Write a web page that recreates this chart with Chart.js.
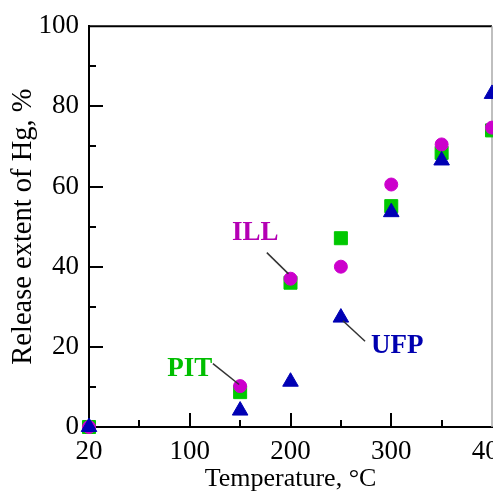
<!DOCTYPE html>
<html>
<head>
<meta charset="utf-8">
<script src="https://cdn.jsdelivr.net/npm/chart.js@4/dist/chart.umd.min.js"></script>
<style>
  html, body { margin: 0; padding: 0; background: #fff; overflow: hidden; width: 493px; height: 495px; }
  canvas { display: block; }
</style>
</head>
<body>
<canvas id="c" width="560" height="495"></canvas>
<script>
// Temperatures (°C); the 20 °C start point sits at the axis origin
const temperatures = [20, 150, 200, 250, 300, 350, 400];
const startTemperature = 20;
// Release extent of Hg (%)
const ILL = [0, 10.2, 37, 40, 60.5, 70.5, 74.7];
const PIT = [0, 8.7, 36, 47.1, 55.1, 68.4, 74];
const UFP = [0, 4.1, 11.3, 27.3, 53.6, 66.5, 83.1];
const xTickLabels = { 0: '20', 100: '100', 200: '200', 300: '300', 400: '400' };
const yTickLabels = [0, 20, 40, 60, 80, 100];

// Series labels with leader lines (label centre, line start, line end) in data units
const annotations = [
  { text: 'ILL', color: '#B400B4', at: [165, 48.3], from: [176.5, 43.5], to: [198, 38.2] },
  { text: 'PIT', color: '#00BE00', at: [100, 14.4], from: [123, 15.8], to: [149, 10.6] },
  { text: 'UFP', color: '#0000B0', at: [306, 20.1], from: [252, 26.5], to: [274, 21.4] }
];

const xPos = t => (t === startTemperature ? 0 : t);
const toPoints = arr => temperatures.map((t, i) => ({ x: xPos(t), y: arr[i] }));

const FONT = '"Liberation Serif", "DejaVu Serif", serif';
Chart.defaults.font.family = FONT;

const framePlugin = {
  id: 'frame',
  beforeDatasetsDraw(chart) {
    const { ctx, chartArea: a, scales: { x, y } } = chart;
    ctx.save();
    ctx.strokeStyle = '#000';
    ctx.lineWidth = 2;
    y.ticks.forEach(t => {
      const v = t.value;
      if (v <= 0 || v >= 100) return;
      const py = Math.round(y.getPixelForValue(v));
      const len = v % 20 === 0 ? 14 : 7;
      ctx.beginPath();
      ctx.moveTo(a.left, py);
      ctx.lineTo(a.left + len, py);
      ctx.stroke();
    });
    x.ticks.forEach(t => {
      const v = t.value;
      if (v <= 0 || v >= 400) return;
      const px = Math.round(x.getPixelForValue(v));
      const len = v % 100 === 0 ? 14 : 7;
      ctx.beginPath();
      ctx.moveTo(px, a.bottom);
      ctx.lineTo(px, a.bottom - len);
      ctx.stroke();
    });
    ctx.beginPath();
    ctx.moveTo(a.left - 1, a.top);
    ctx.lineTo(a.right, a.top);
    ctx.stroke();
    ctx.strokeStyle = '#aaa';
    ctx.lineWidth = 1.5;
    ctx.beginPath();
    ctx.moveTo(a.right, a.top);
    ctx.lineTo(a.right, a.bottom);
    ctx.stroke();
    ctx.restore();
  },
  afterDraw(chart) {
    const { ctx, scales: { x, y } } = chart;
    ctx.save();
    annotations.forEach(an => {
      ctx.strokeStyle = '#333';
      ctx.lineWidth = 1.5;
      ctx.beginPath();
      ctx.moveTo(x.getPixelForValue(an.from[0]), y.getPixelForValue(an.from[1]));
      ctx.lineTo(x.getPixelForValue(an.to[0]), y.getPixelForValue(an.to[1]));
      ctx.stroke();
      ctx.fillStyle = an.color;
      ctx.font = 'bold 27px ' + FONT;
      ctx.textAlign = 'center';
      ctx.textBaseline = 'middle';
      ctx.fillText(an.text, x.getPixelForValue(an.at[0]), y.getPixelForValue(an.at[1]));
    });
    ctx.restore();
  }
};

new Chart(document.getElementById('c'), {
  type: 'scatter',
  data: {
    datasets: [
      { label: 'UFP', data: toPoints(UFP), pointStyle: 'triangle', pointRadius: 9, clip: false,
        backgroundColor: '#0000B4', borderColor: '#0000B4', borderWidth: 1, order: 1 },
      { label: 'ILL', data: toPoints(ILL), pointStyle: 'circle', pointRadius: 6.5, clip: false,
        backgroundColor: '#CC00CC', borderColor: '#CC00CC', borderWidth: 1, order: 2 },
      { label: 'PIT', data: toPoints(PIT), pointStyle: 'rect', pointRadius: 9.2, clip: false,
        backgroundColor: '#00C800', borderColor: '#00C800', borderWidth: 1, order: 3 }
    ]
  },
  options: {
    responsive: false,
    animation: false,
    events: [],
    layout: { padding: { left: 0, top: 24, right: 68, bottom: 0 } },
    plugins: { legend: { display: false }, tooltip: { enabled: false } },
    scales: {
      x: {
        type: 'linear', min: 0, max: 400,
        grid: { display: false, drawTicks: false, tickLength: 0 },
        border: { display: true, color: '#000', width: 2 },
        ticks: {
          stepSize: 50, autoSkip: false, maxRotation: 0, padding: 9,
          color: '#000', font: { family: FONT, size: 27 },
          callback: v => (xTickLabels[v] !== undefined ? xTickLabels[v] : '')
        },
        title: { display: true, text: 'Temperature, °C', color: '#000',
          font: { family: FONT, size: 26 }, padding: { top: 0, bottom: 0 } },
        afterFit: s => { s.height = 68; }
      },
      y: {
        type: 'linear', min: 0, max: 100,
        grid: { display: false, drawTicks: false, tickLength: 0 },
        border: { display: true, color: '#000', width: 2 },
        ticks: {
          stepSize: 10, autoSkip: false, padding: 10,
          color: '#000', font: { family: FONT, size: 27 },
          callback: v => (yTickLabels.includes(v) ? String(v) : '')
        },
        title: { display: true, text: 'Release extent of Hg, %', color: '#000',
          font: { family: FONT, size: 28.5 }, padding: { top: 6, bottom: 0 } },
        afterFit: s => { s.width = 89; }
      }
    }
  },
  plugins: [framePlugin]
});
</script>
</body>
</html>
